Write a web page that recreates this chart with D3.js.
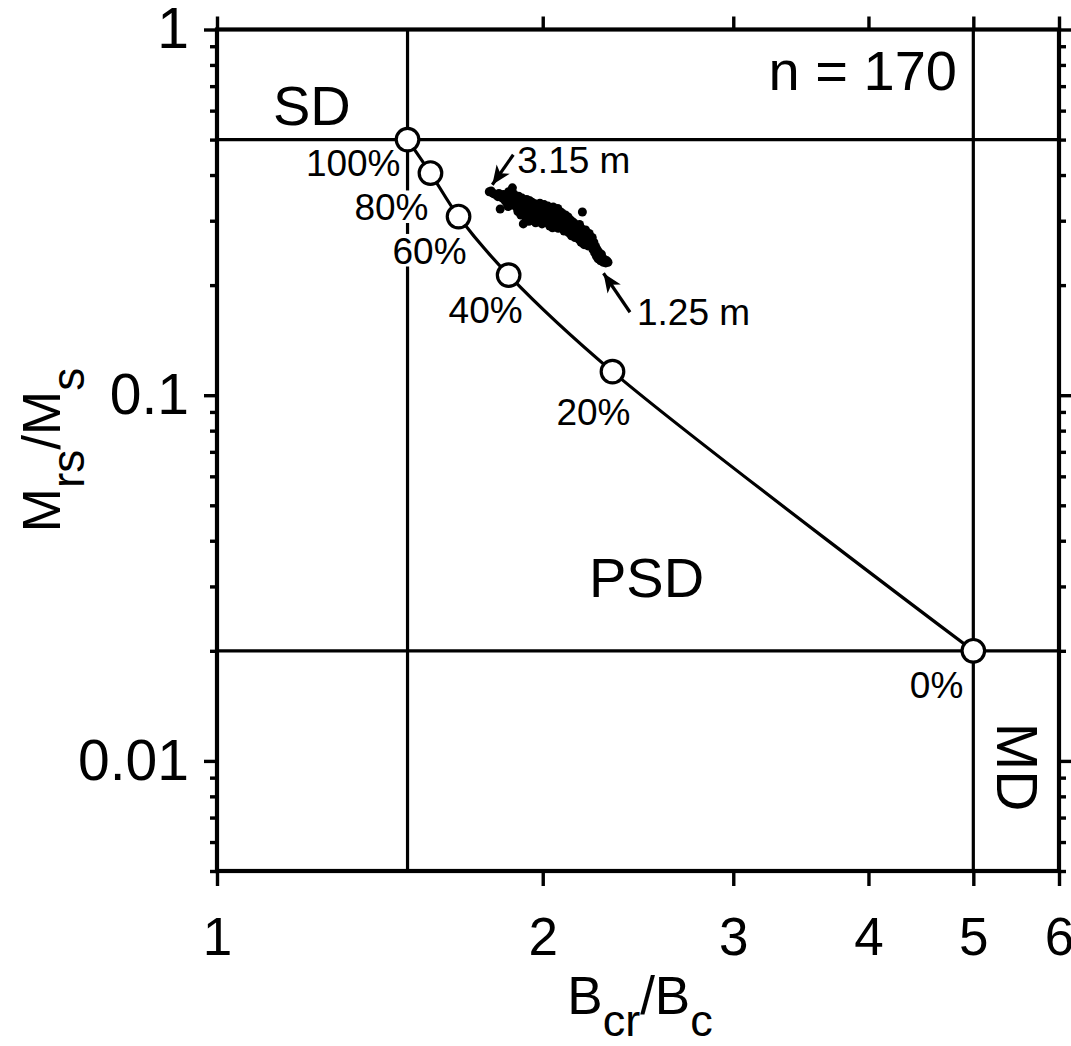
<!DOCTYPE html>
<html>
<head>
<meta charset="utf-8">
<script src="https://cdn.jsdelivr.net/npm/d3@7"></script>
<style>
  body { margin: 0; background: #fff; }
  text { font-family: "Liberation Sans", Arial, Helvetica, sans-serif; fill: #000; }
</style>
</head>
<body>
<svg id="chart" width="1071" height="1046"></svg>
<script>
// ---- Data -------------------------------------------------------------
// Hysteresis ratios of the core samples, [Bcr/Bc, Mrs/Ms];
// first entry is the shallowest sample (3.15 m), last the deepest (1.25 m).
const samples = [
  [1.785,0.360],[1.792,0.362],[1.798,0.357],[1.805,0.355],[1.812,0.353],[1.818,0.349],[1.822,0.356],[1.827,0.323],
  [1.830,0.351],[1.836,0.346],[1.840,0.354],[1.845,0.341],[1.848,0.349],[1.852,0.336],[1.856,0.344],[1.858,0.328],
  [1.860,0.360],[1.863,0.352],[1.866,0.339],[1.870,0.347],[1.873,0.331],[1.875,0.369],[1.878,0.356],[1.881,0.343],
  [1.884,0.336],[1.886,0.352],
  [1.889,0.345],[1.891,0.327],[1.894,0.338],[1.897,0.318],[1.900,0.350],[1.903,0.332],[1.906,0.341],[1.909,0.311],
  [1.911,0.324],[1.914,0.346],[1.917,0.335],[1.919,0.294],[1.922,0.318],[1.925,0.339],[1.928,0.329],[1.930,0.305],
  [1.933,0.343],[1.935,0.322],[1.938,0.313],[1.940,0.334],[1.942,0.299],[1.944,0.326],[1.946,0.340],[1.948,0.317],
  [1.950,0.331],[1.952,0.309],[1.955,0.337],[1.957,0.320],[1.960,0.302],[1.962,0.328],[1.965,0.314],[1.967,0.334],
  [1.970,0.296],[1.972,0.322],[1.974,0.308],[1.977,0.330],[1.979,0.316],[1.981,0.300],[1.984,0.325],[1.986,0.311],
  [1.988,0.335],[1.990,0.305],[1.993,0.319],[1.995,0.328],[1.997,0.294],[1.999,0.313],[2.002,0.323],[2.004,0.306],
  [2.006,0.332],[2.008,0.318],[2.010,0.299],[2.012,0.326],
  [2.015,0.312],[2.017,0.321],[2.020,0.296],[2.022,0.329],[2.025,0.305],[2.027,0.316],[2.030,0.290],[2.032,0.324],
  [2.035,0.309],[2.037,0.300],[2.040,0.318],[2.042,0.287],[2.045,0.327],[2.047,0.312],[2.050,0.297],[2.052,0.306],
  [2.055,0.320],[2.057,0.292],[2.060,0.314],[2.062,0.301],[2.065,0.324],[2.067,0.286],[2.070,0.309],[2.072,0.296],
  [2.074,0.318],[2.076,0.303],[2.078,0.291],[2.079,0.312],
  [2.081,0.300],[2.084,0.315],[2.087,0.289],[2.090,0.306],[2.093,0.281],[2.096,0.297],[2.099,0.311],[2.102,0.284],
  [2.105,0.302],[2.108,0.292],[2.111,0.307],[2.114,0.278],[2.117,0.296],[2.120,0.286],[2.123,0.301],[2.126,0.273],
  [2.129,0.291],[2.132,0.282],[2.135,0.297],[2.137,0.276],[2.140,0.288],[2.142,0.270],[2.144,0.293],[2.146,0.281],
  [2.149,0.290],[2.153,0.275],[2.156,0.284],[2.160,0.267],[2.163,0.293],[2.167,0.279],[2.170,0.262],[2.174,0.285],
  [2.176,0.317],[2.177,0.271],[2.181,0.278],[2.184,0.258],[2.188,0.270],[2.191,0.283],[2.195,0.264],[2.198,0.274],
  [2.202,0.256],[2.205,0.268],[2.208,0.277],[2.211,0.259],[2.214,0.266],
  [2.218,0.257],[2.222,0.270],[2.226,0.250],[2.230,0.262],[2.234,0.245],[2.238,0.255],[2.242,0.240],[2.246,0.250],
  [2.250,0.236],[2.254,0.246],[2.258,0.241],[2.262,0.233],[2.266,0.243],[2.271,0.237],[2.276,0.231],[2.281,0.235],
  [2.287,0.230],[2.293,0.233],[2.298,0.231]
];
const sampleCountLabel = "n = 170";
const depthLabels = ["3.15 m", "1.25 m"];   // shallowest / deepest sample

// SD–MD mixing curve (SD fraction by volume)
const mixLabels = ["100%", "80%", "60%", "40%", "20%", "0%"];
const mixBcrBc  = [1.50, 1.575, 1.672, 1.86, 2.32, 5.0];
const mixMrsMs  = [0.50, 0.405, 0.308, 0.213, 0.116, 0.020];

// Domain-state boundaries
const boundaryBcrBc = [1.5, 5];
const boundaryMrsMs = [0.02, 0.5];

// Axes
const xDomain = [1, 6];
const yDomain = [0.005, 1];
const xTickValues = [1, 2, 3, 4, 5, 6];
const xTickLabels = ["1", "2", "3", "4", "5", "6"];
const yTickValues = [0.01, 0.1, 1];
const yTickLabels = ["0.01", "0.1", "1"];

// ---- Layout -----------------------------------------------------------
const plot = { left: 217, right: 1059, top: 29.5, bottom: 871 };
const svg = d3.select("#chart");

const x = d3.scaleLog().domain(xDomain).range([plot.left, plot.right]);
const y = d3.scaleLog().domain(yDomain).range([plot.bottom, plot.top]);
const yMinor = y.ticks().filter(v => !yTickValues.some(t => Math.abs(t - v) / t < 1e-6));

const lineW = 3.2;

// ---- Domain boundary lines -------------------------------------------
const lines = svg.append("g").attr("stroke", "#000").attr("stroke-width", lineW);
boundaryBcrBc.forEach(v => lines.append("line")
  .attr("x1", x(v)).attr("x2", x(v)).attr("y1", plot.top).attr("y2", plot.bottom));
boundaryMrsMs.forEach(v => lines.append("line")
  .attr("x1", plot.left).attr("x2", plot.right).attr("y1", y(v)).attr("y2", y(v)));

// ---- Axes -------------------------------------------------------------
function styleAxis(g) {
  g.select(".domain").remove();
  g.selectAll(".tick line").attr("stroke", "#000").attr("stroke-width", 3.4);
  g.selectAll(".tick text").attr("fill", "#000");
}
svg.append("g").attr("transform", `translate(${plot.left},0)`)
  .call(d3.axisLeft(y).tickValues(yTickValues).tickFormat((d, i) => yTickLabels[i])
        .tickSize(13).tickPadding(15))
  .call(styleAxis)
  .call(g => g.selectAll(".tick text").attr("font-size", 57).attr("font-family", null));
svg.append("g").attr("transform", `translate(${plot.left},0)`)
  .call(d3.axisLeft(y).tickValues(yMinor).tickFormat("").tickSize(7)).call(styleAxis);
svg.append("g").attr("transform", `translate(${plot.right},0)`)
  .call(d3.axisRight(y).tickValues(yTickValues).tickFormat("").tickSize(13)).call(styleAxis);
svg.append("g").attr("transform", `translate(${plot.right},0)`)
  .call(d3.axisRight(y).tickValues(yMinor).tickFormat("").tickSize(7)).call(styleAxis);
svg.append("g").attr("transform", `translate(0,${plot.bottom})`)
  .call(d3.axisBottom(x).tickValues(xTickValues).tickFormat((d, i) => xTickLabels[i])
        .tickSize(15).tickPadding(31))
  .call(styleAxis)
  .call(g => g.selectAll(".tick text").attr("font-size", 53).attr("font-family", null));
svg.append("g").attr("transform", `translate(0,${plot.top})`)
  .call(d3.axisTop(x).tickValues(xTickValues).tickFormat("").tickSize(13)).call(styleAxis);

// Frame
svg.append("rect")
  .attr("x", plot.left).attr("y", plot.top)
  .attr("width", plot.right - plot.left).attr("height", plot.bottom - plot.top)
  .attr("fill", "none").attr("stroke", "#000").attr("stroke-width", 4.2);

// ---- Region labels ----------------------------------------------------
svg.append("text").attr("x", 273).attr("y", 125).attr("font-size", 56).text("SD");
svg.append("text").attr("x", 589).attr("y", 597).attr("font-size", 56).text("PSD");
svg.append("text").attr("transform", "translate(997,767) rotate(90)")
  .attr("text-anchor", "middle").attr("font-size", 57).text("MD");
svg.append("text").attr("x", 957).attr("y", 90).attr("text-anchor", "end")
  .attr("font-size", 56).text(sampleCountLabel);

// ---- Mixing curve -----------------------------------------------------
const mix = mixLabels.map((label, i) => ({ label, bc: mixBcrBc[i], m: mixMrsMs[i] }));
// label offsets (px) of the text's right end / baseline from the marker centre
const mixLabelOffsets = [[-7, 36], [-2, 47], [8, 47], [14, 48], [18, 53], [-10, 47]];

const labelLayer = svg.append("g");
const curveLayer = svg.append("g");
const textLayer = svg.append("g");

curveLayer.append("path")
  .datum(mix)
  .attr("fill", "none").attr("stroke", "#000").attr("stroke-width", lineW)
  .attr("d", d3.line().x(d => x(d.bc)).y(d => y(d.m)).curve(d3.curveCatmullRom.alpha(0.5)));

curveLayer.selectAll("circle.mix")
  .data(mix).join("circle").attr("class", "mix")
  .attr("cx", d => x(d.bc)).attr("cy", d => y(d.m)).attr("r", 11.3)
  .attr("fill", "#fff").attr("stroke", "#000").attr("stroke-width", lineW);

const pctFont = 37;
mix.forEach((d, i) => {
  const tx = x(d.bc) + mixLabelOffsets[i][0];
  const ty = y(d.m) + mixLabelOffsets[i][1];
  const t = textLayer.append("text").attr("x", tx).attr("y", ty)
    .attr("text-anchor", "end").attr("font-size", pctFont).text(d.label);
  const bb = t.node().getBBox();
  // white backing so the labels interrupt the boundary lines
  labelLayer.append("rect")
    .attr("x", bb.x - 2).attr("y", ty - pctFont * 0.8)
    .attr("width", bb.width + 4).attr("height", pctFont * 0.88)
    .attr("fill", "#fff");
});

// ---- Samples ----------------------------------------------------------
svg.append("g").selectAll("circle")
  .data(samples).join("circle")
  .attr("cx", d => x(d[0])).attr("cy", d => y(d[1])).attr("r", 4.5)
  .attr("fill", "#000");

// ---- Depth annotations -----------------------------------------------
const defs = svg.append("defs");
defs.append("marker").attr("id", "head")
  .attr("viewBox", "-20 -10 22 20").attr("refX", 0).attr("refY", 0)
  .attr("markerUnits", "userSpaceOnUse").attr("markerWidth", 22).attr("markerHeight", 20)
  .attr("orient", "auto")
  .append("path").attr("d", "M0,0 L-19,-8 L-14,0 L-19,8 Z").attr("fill", "#000");

const ends = [samples[0], samples[samples.length - 1]];
// [tip dx, tip dy, tail dx, tail dy, text dx, text baseline dy] relative to the sample
const annOffsets = [[3, -7, 24, -37, 28, -19], [-4.5, 11, 22, 50, 29, 63]];
ends.forEach((s, i) => {
  const px = x(s[0]), py = y(s[1]), o = annOffsets[i];
  svg.append("line")
    .attr("x1", px + o[2]).attr("y1", py + o[3])
    .attr("x2", px + o[0]).attr("y2", py + o[1])
    .attr("stroke", "#000").attr("stroke-width", lineW).attr("marker-end", "url(#head)");
  svg.append("text").attr("x", px + o[4]).attr("y", py + o[5])
    .attr("font-size", 37).text(depthLabels[i]);
});

// ---- Axis titles ------------------------------------------------------
const xt = svg.append("text").attr("x", 640).attr("y", 1014)
  .attr("text-anchor", "middle").attr("font-size", 53);
xt.append("tspan").text("B");
xt.append("tspan").attr("dy", 22).attr("font-size", 45).text("cr");
xt.append("tspan").attr("dy", -22).text("/B");
xt.append("tspan").attr("dy", 22).attr("font-size", 45).text("c");

const yt = svg.append("text").attr("transform", "translate(60,450) rotate(-90)")
  .attr("text-anchor", "middle").attr("font-size", 53);
yt.append("tspan").text("M");
yt.append("tspan").attr("dy", 24).attr("font-size", 46).text("rs");
yt.append("tspan").attr("dy", -24).text("/M");
yt.append("tspan").attr("dy", 24).attr("font-size", 46).text("s");
</script>
</body>
</html>
